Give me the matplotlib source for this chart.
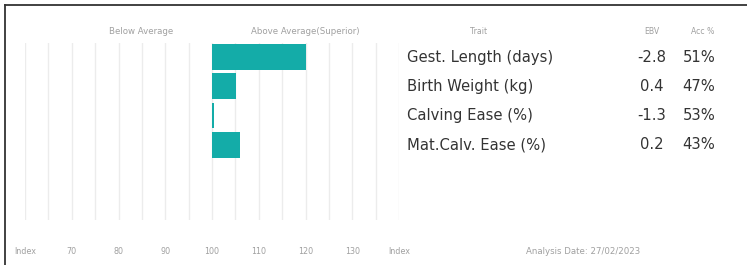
import numpy as np
import matplotlib
matplotlib.use("Agg")
import matplotlib.pyplot as plt
import matplotlib.transforms as mtransforms
from matplotlib.lines import Line2D

# data
traits = ["Gest. Length (days)", "Birth Weight (kg)", "Calving Ease (%)", "Mat.Calv. Ease (%)"]
ebv = ["-2.8", "0.4", "-1.3", "0.2"]
acc = ["51%", "47%", "53%", "43%"]
index_vals = [120.1, 105.1, 100.4, 106.0]
tick_pos = [60, 70, 80, 90, 100, 110, 120, 130, 140]
tick_labels = ["Index", "70", "80", "90", "100", "110", "120", "130", "Index"]
analysis_date = "Analysis Date: 27/02/2023"

W, H = 747, 265
dpi = 100
fig = plt.figure(figsize=(W / dpi, H / dpi), dpi=dpi)
fig.patch.set_facecolor("white")
plt.rcParams['font.family'] = ['DejaVu Sans']

# axes spanning pixels x 25..399, y 43..220
x0, x1, y0, y1 = 25, 399, 43, 220
ax = fig.add_axes([x0 / W, 1 - y1 / H, (x1 - x0) / W, (y1 - y0) / H])
ax.set_xlim(60, 140)
ax.set_ylim((220 - 57) / 29.3, (43 - 57) / 29.3)
ax.set_frame_on(False)
ax.set_xticks([]); ax.set_yticks([])

# grid lines every 5
for g in np.arange(60, 141, 5):
    ax.axvline(g, color="#ececec", lw=1.0, zorder=0)

rows = np.arange(len(traits))
ax.barh(rows, np.array(index_vals) - 100, left=100, height=0.88,
        color="#14aca8", zorder=2)

grey = "#a0a0a0"
small = 6.2
# axis labels under the grid
lab_tr = mtransforms.blended_transform_factory(ax.transData, fig.transFigure)
for p, l in zip(tick_pos, tick_labels):
    ax.text(p, 1 - 252 / H, l, transform=lab_tr, ha="center", va="center",
            fontsize=small - 0.4, color=grey)
ax.text(84.8, 1 - 32 / H, "Below Average", transform=lab_tr, ha="center",
        va="center", fontsize=small, color=grey)
ax.text(120, 1 - 32 / H, "Above Average(Superior)", transform=lab_tr,
        ha="center", va="center", fontsize=small, color=grey)

# table on the right
tbl = mtransforms.blended_transform_factory(fig.transFigure, ax.transData)
fig.text(479 / W, 1 - 31 / H, "Trait", ha="center", va="center", fontsize=small - 0.6, color=grey)
fig.text(652 / W, 1 - 31 / H, "EBV", ha="center", va="center", fontsize=small - 0.6, color=grey)
fig.text(703 / W, 1 - 31 / H, "Acc %", ha="center", va="center", fontsize=small - 0.6, color=grey)
for i, (t, e, a) in enumerate(zip(traits, ebv, acc)):
    ax.text(407 / W, i, t, transform=tbl, ha="left", va="center",
            fontsize=10.6, color="#333333", clip_on=False)
    ax.text(652 / W, i, e, transform=tbl, ha="center", va="center",
            fontsize=10.6, color="#333333", clip_on=False)
    ax.text(699 / W, i, a, transform=tbl, ha="center", va="center",
            fontsize=10.6, color="#333333", clip_on=False)

fig.text(583 / W, 1 - 252 / H, analysis_date, ha="center", va="center",
         fontsize=small, color=grey)

# frame (top and left)
fig.add_artist(Line2D([5 / W, 1], [1 - 5 / H, 1 - 5 / H], transform=fig.transFigure,
                      color="#333333", lw=1.3))
fig.add_artist(Line2D([5 / W, 5 / W], [1 - 5 / H, 0], transform=fig.transFigure,
                      color="#333333", lw=1.3))

fig.savefig("out.png", dpi=dpi)
